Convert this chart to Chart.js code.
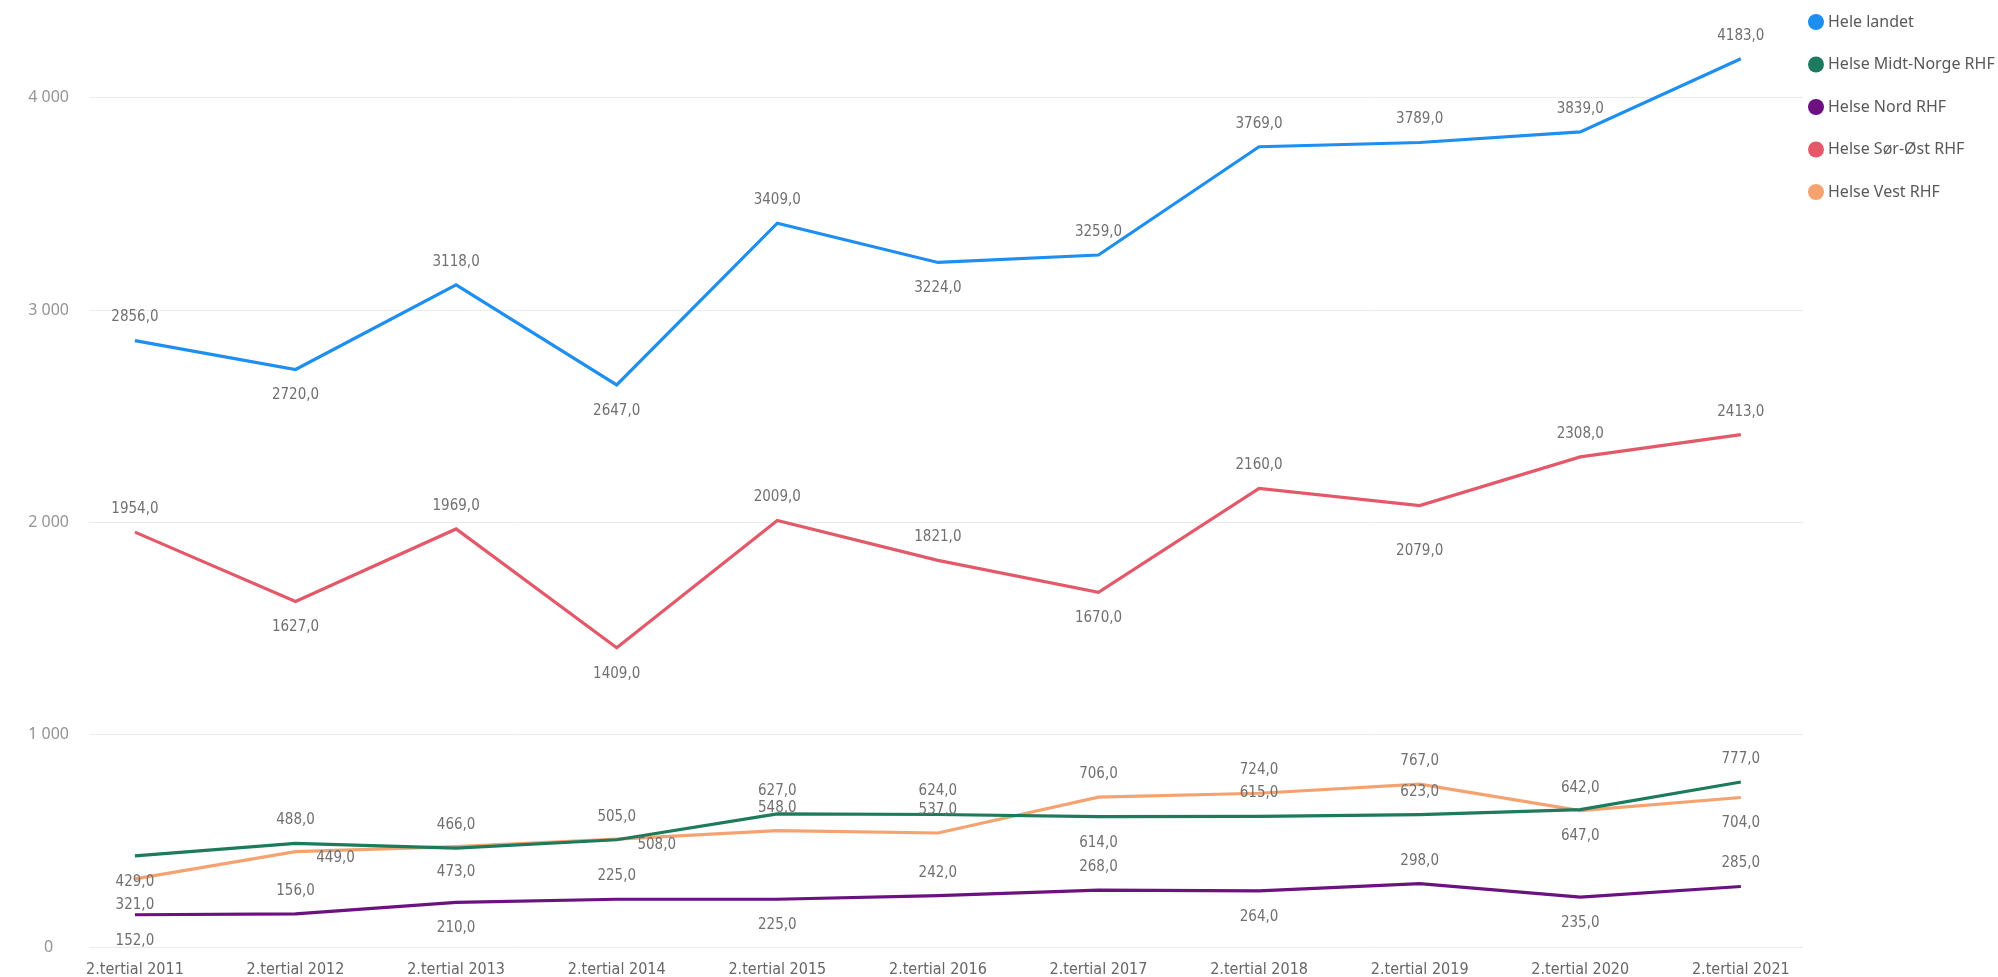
<!DOCTYPE html>
<html>
<head>
<meta charset="utf-8">
<title>Helseforetak per tertial</title>
<script src="https://cdn.jsdelivr.net/npm/chart.js@4/dist/chart.umd.min.js"></script>
<style>
  body { margin: 0; background: #ffffff; }
  canvas { display: block; }
</style>
</head>
<body>
<canvas id="chart" width="1998" height="977"></canvas>
<script>
// Chart data
const categories = [
  "2.tertial 2011", "2.tertial 2012", "2.tertial 2013", "2.tertial 2014",
  "2.tertial 2015", "2.tertial 2016", "2.tertial 2017", "2.tertial 2018",
  "2.tertial 2019", "2.tertial 2020", "2.tertial 2021",
];
const seriesNames = [
  "Hele landet", "Helse Midt-Norge RHF", "Helse Nord RHF",
  "Helse Sør-Øst RHF", "Helse Vest RHF",
];
const heleLandet = [2856, 2720, 3118, 2647, 3409, 3224, 3259, 3769, 3789, 3839, 4183];
const midtNorge = [429, 488, 466, 505, 627, 624, 614, 615, 623, 647, 777];
const nord = [152, 156, 210, 225, 225, 242, 268, 264, 298, 235, 285];
const sorOst = [1954, 1627, 1969, 1409, 2009, 1821, 1670, 2160, 2079, 2308, 2413];
const vest = [321, 449, 473, 508, 548, 537, 706, 724, 767, 642, 704];
const yTicks = [0, 1000, 2000, 3000, 4000];

// Where each value label sits: a = above, b = below, d = further below, r = right of the point
const spotsHele = ["a", "b", "a", "b", "a", "b", "a", "a", "a", "a", "a"];
const spotsMidt = ["b", "a", "a", "a", "a", "a", "b", "a", "a", "b", "a"];
const spotsNord = ["b", "a", "b", "a", "b", "a", "a", "b", "a", "b", "a"];
const spotsSor = ["a", "b", "a", "b", "a", "a", "b", "a", "d", "a", "a"];
const spotsVest = ["b", "r", "b", "r", "a", "a", "a", "a", "a", "a", "b"];

const colors = ["#1E8EF0", "#1D7A5C", "#6B1280", "#E4596A", "#F4A370"];
const labelSpots = {
  a: { dx: 0, dy: -23 },
  b: { dx: 0, dy: 26 },
  d: { dx: 0, dy: 46 },
  r: { dx: 40, dy: 6 },
};

const condensed = "'DejaVu Sans Condensed', 'DejaVu Sans', sans-serif";
const plainFont = "'Noto Sans', 'Open Sans', sans-serif";

// Function to format a value label like 2856,0
function formatValue(v) {
  return v.toFixed(1).replace(".", ",");
}

// Function to format y ticks like 4 000
function formatTick(v) {
  return String(v).replace(/\B(?=(\d{3})+(?!\d))/g, " ");
}

// Function to build one line dataset
function makeSeries(name, values, color, spots) {
  return {
    label: name,
    data: values.map((v, i) => ({ x: i, y: v })),
    borderColor: color,
    backgroundColor: color,
    borderWidth: 3.2,
    pointRadius: 0,
    tension: 0,
    spots: spots,
  };
}

// Plugin to draw value labels next to each point
const valueLabels = {
  id: "valueLabels",
  afterDatasetsDraw(chart) {
    const ctx = chart.ctx;
    ctx.save();
    ctx.font = "15px " + condensed;
    ctx.fillStyle = "#707070";
    ctx.textAlign = "center";
    ctx.textBaseline = "middle";
    chart.data.datasets.forEach((dataset, i) => {
      chart.getDatasetMeta(i).data.forEach((point, j) => {
        const spot = labelSpots[dataset.spots[j]];
        ctx.fillText(formatValue(dataset.data[j].y), point.x + spot.dx, point.y + spot.dy);
      });
    });
    ctx.restore();
  },
};

// Plugin to draw the legend in the top right corner
const sideLegend = {
  id: "sideLegend",
  afterDraw(chart) {
    const ctx = chart.ctx;
    ctx.save();
    ctx.font = "16px " + plainFont;
    ctx.textBaseline = "middle";
    chart.data.datasets.forEach((dataset, i) => {
      const y = 22 + i * 42.5;
      ctx.fillStyle = dataset.borderColor;
      ctx.beginPath();
      ctx.arc(1816, y, 8, 0, Math.PI * 2);
      ctx.fill();
      ctx.fillStyle = "#595959";
      ctx.fillText(dataset.label, 1828, y);
    });
    ctx.restore();
  },
};

const chart = new Chart(document.getElementById("chart"), {
  type: "line",
  data: {
    datasets: [
      makeSeries(seriesNames[0], heleLandet, colors[0], spotsHele),
      makeSeries(seriesNames[1], midtNorge, colors[1], spotsMidt),
      makeSeries(seriesNames[2], nord, colors[2], spotsNord),
      makeSeries(seriesNames[3], sorOst, colors[3], spotsSor),
      makeSeries(seriesNames[4], vest, colors[4], spotsVest),
    ],
  },
  options: {
    responsive: false,
    animation: false,
    layout: { padding: { top: 0, right: 195, bottom: 0, left: 0 } },
    plugins: {
      legend: { display: false },
      tooltip: { enabled: false },
    },
    scales: {
      x: {
        type: "linear",
        min: -0.286,
        max: 10.387,
        grid: { display: false },
        border: { display: false },
        afterBuildTicks: (scale) => {
          scale.ticks = categories.map((c, i) => ({ value: i }));
        },
        afterFit: (scale) => {
          scale.height = 30;
        },
        ticks: {
          autoSkip: false,
          maxRotation: 0,
          padding: 5,
          color: "#666666",
          font: { family: condensed, size: 16 },
          callback: (v) => categories[v],
        },
      },
      y: {
        min: 0,
        max: 4460,
        grid: { color: "#EBEBEB", lineWidth: 1, drawTicks: false },
        border: { display: false },
        afterBuildTicks: (scale) => {
          scale.ticks = yTicks.map((v) => ({ value: v }));
        },
        afterFit: (scale) => {
          scale.width = 89;
          scale.paddingTop = 0;
          scale.paddingBottom = 0;
        },
        ticks: {
          crossAlign: "center",
          padding: 20,
          color: "#949494",
          font: { family: plainFont, size: 16 },
          callback: (v) => formatTick(v),
        },
      },
    },
  },
  plugins: [valueLabels, sideLegend],
});
</script>
</body>
</html>
